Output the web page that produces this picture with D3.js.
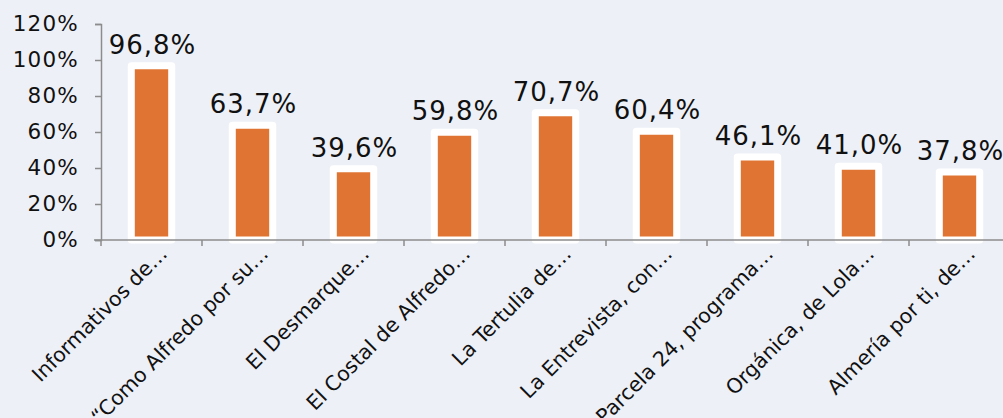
<!DOCTYPE html>
<html>
<head>
  <meta charset="utf-8">
  <script src="https://cdnjs.cloudflare.com/ajax/libs/d3/7.8.5/d3.min.js"></script>
  <style>
    body { margin: 0; background: #edf0f7; overflow: hidden; }
    svg { display: block; font-family: "DejaVu Sans", Verdana, sans-serif; }
  </style>
</head>
<body>
  <svg></svg>
<script>
  // programas y porcentajes
  let categories = [
    "Informativos de…",
    "“Como Alfredo por su…",
    "El Desmarque…",
    "El Costal de Alfredo…",
    "La Tertulia de…",
    "La Entrevista, con…",
    "Parcela 24, programa…",
    "Orgánica, de Lola…",
    "Almería por ti, de…"
  ];
  let values = [96.8, 63.7, 39.6, 59.8, 70.7, 60.4, 46.1, 41.0, 37.8];
  let yTicks = [0, 20, 40, 60, 80, 100, 120];

  let width = 1003, height = 418;
  let margin = {top: 24, left: 101, bottom: 178};
  let svg = d3.select("svg").attr("width", width).attr("height", height);

  let x = d3.scaleBand()
    .domain(categories)
    .range([margin.left, margin.left + 101 * categories.length])
    .paddingInner(0.6)
    .paddingOuter(0.3);

  let y = d3.scaleLinear()
    .domain([0, 120])
    .range([height - margin.bottom, margin.top]);

  let fmt = v => v.toFixed(1).replace(".", ",") + "%";

  // eje Y
  let yAxis = svg.append("g")
    .attr("transform", "translate(" + margin.left + ",0)")
    .call(d3.axisLeft(y).tickValues(yTicks).tickSize(6).tickPadding(17).tickFormat(d => d + "%"));
  yAxis.select(".domain").attr("stroke", "#8c8c8c").attr("stroke-width", 1.5);
  yAxis.selectAll(".tick line").attr("stroke", "#8c8c8c").attr("stroke-width", 1.5);
  yAxis.selectAll("text")
    .attr("font-size", 21.5)
    .attr("letter-spacing", 1.2)
    .attr("dx", 1)
    .attr("fill", "#111")
    .attr("font-family", "DejaVu Sans");

  // barras
  svg.selectAll(".bar")
    .data(values)
    .enter()
    .append("rect")
    .attr("class", "bar")
    .attr("x", (d, i) => x(categories[i]))
    .attr("y", d => y(d))
    .attr("width", x.bandwidth())
    .attr("height", d => y(0) - y(d))
    .attr("fill", "#e07533")
    .attr("stroke", "#ffffff")
    .attr("stroke-width", 7)
    .attr("stroke-linejoin", "round");

  // eje X
  let x0 = y(0);
  svg.append("line")
    .attr("x1", margin.left - 7).attr("x2", width)
    .attr("y1", x0).attr("y2", x0)
    .attr("stroke", "#8c8c8c").attr("stroke-width", 1.5);

  svg.selectAll(".xtick")
    .data(d3.range(categories.length + 1))
    .enter()
    .append("line")
    .attr("class", "xtick")
    .attr("x1", i => margin.left + x.step() * i)
    .attr("x2", i => margin.left + x.step() * i)
    .attr("y1", x0).attr("y2", x0 + 6)
    .attr("stroke", "#8c8c8c").attr("stroke-width", 1.5);

  svg.selectAll(".xlabel")
    .data(categories)
    .enter()
    .append("text")
    .attr("class", "xlabel")
    .attr("transform", d => "translate(" + (x(d) + x.bandwidth() / 2 + 17) + "," + (x0 + 15) + ") rotate(-45)")
    .attr("text-anchor", "end")
    .attr("font-size", 20.5)
    .attr("fill", "#111")
    .text(d => d);

  // etiquetas de valor
  svg.selectAll(".vlabel")
    .data(values)
    .enter()
    .append("text")
    .attr("class", "vlabel")
    .attr("x", (d, i) => x(categories[i]) + x.bandwidth() / 2 + 1)
    .attr("y", d => y(d) - 12)
    .attr("text-anchor", "middle")
    .attr("font-size", 26)
    .attr("letter-spacing", 1)
    .attr("fill", "#111")
    .text(d => fmt(d));
</script>
</body>
</html>
